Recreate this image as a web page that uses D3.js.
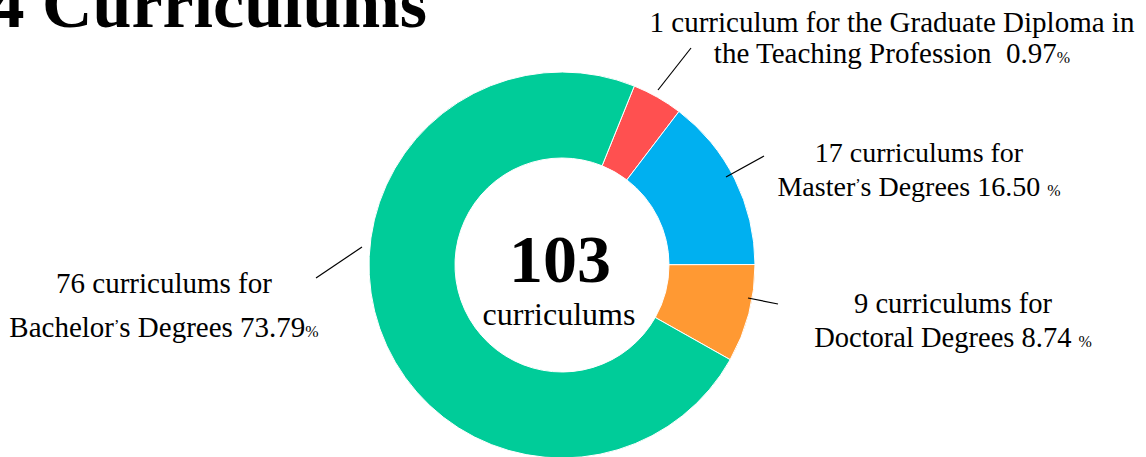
<!DOCTYPE html>
<html>
<head>
<meta charset="utf-8">
<script src="https://cdn.jsdelivr.net/npm/d3@7"></script>
<style>
  body { margin: 0; background: #fff; }
  svg { display: block; font-family: "Liberation Serif", "Times New Roman", serif; }
</style>
</head>
<body>
<script>
// slice shares as drawn in the picture (percent of the ring)
var categories = ["Graduate Diploma", "Master", "Doctoral", "Bachelor"];
var drawnShare = [4.25, 14.6, 8.2, 72.95];
var counts = [1, 17, 9, 76];
var percentLabels = ["0.97", "16.50 ", "8.74 ", "73.79"];
var labelLines = [
  ["1 curriculum for the Graduate Diploma in", "the Teaching Profession  "],
  ["17 curriculums for", "Master’s Degrees "],
  ["9 curriculums for", "Doctoral Degrees "],
  ["76 curriculums for", "Bachelor’s Degrees "]
];
var colors = ["#ff5050", "#00b0f0", "#ff9933", "#00cc99"];
var totalLabel = "103";

var width = 1146,
    height = 457;

var cx = 562, cy = 265,
    outerR = 193, innerR = 107;

// label layout: text centre x, first baseline y, line gap, font size, leader line ends
var labelLayout = [
  { x: 892, y: 32, gap: 31, size: 29, line: [[658, 90], [691, 48]] },
  { x: 919, y: 162, gap: 34, size: 28, line: [[726, 177], [764, 156]] },
  { x: 953, y: 313, gap: 34, size: 28.5, line: [[748, 298], [778, 304]] },
  { x: 164, y: 293, gap: 44, size: 29, line: [[316, 278], [362, 247]] }
];

var svg = d3.select("body")
  .append("svg")
  .attr("width", width)
  .attr("height", height);

var pie = d3.pie()
    .sort(null)
    .value(function(d) { return d; })
    .startAngle(22 * Math.PI / 180)
    .endAngle(382 * Math.PI / 180);

var arc = d3.arc()
    .innerRadius(innerR)
    .outerRadius(outerR);

var g = svg.append("g")
    .attr("transform", "translate(" + cx + "," + cy + ")");

g.selectAll("path")
    .data(pie(drawnShare))
  .enter().append("path")
    .attr("d", arc)
    .attr("fill", function(d, i) { return colors[i]; })
    .attr("stroke", "#fff")
    .attr("stroke-width", 1);

g.append("text")
    .attr("text-anchor", "middle")
    .attr("x", -2)
    .attr("y", 17)
    .attr("font-size", 68)
    .attr("font-weight", "bold")
    .text(totalLabel);

g.append("text")
    .attr("text-anchor", "middle")
    .attr("x", -3)
    .attr("y", 60)
    .attr("font-size", 32)
    .text("curriculums");

// title (cut off by the top edge)
svg.append("text")
    .attr("x", 427)
    .attr("y", 27)
    .attr("text-anchor", "end")
    .attr("font-size", 70)
    .attr("font-weight", "bold")
    .text("4 Curriculums");

// labels
var labels = svg.selectAll("g.label")
    .data(categories)
  .enter().append("g")
    .attr("class", "label");

labels.append("line")
    .attr("x1", function(d, i) { return labelLayout[i].line[0][0]; })
    .attr("y1", function(d, i) { return labelLayout[i].line[0][1]; })
    .attr("x2", function(d, i) { return labelLayout[i].line[1][0]; })
    .attr("y2", function(d, i) { return labelLayout[i].line[1][1]; })
    .attr("stroke", "#000")
    .attr("stroke-width", 1.2);

labels.each(function(d, i) {
  var L = labelLayout[i];
  d3.select(this).append("text")
      .attr("x", L.x)
      .attr("y", L.y)
      .attr("text-anchor", "middle")
      .attr("font-size", L.size)
      .text(labelLines[i][0]);
  var t2 = d3.select(this).append("text")
      .attr("x", L.x)
      .attr("y", L.y + L.gap)
      .attr("text-anchor", "middle")
      .attr("font-size", L.size)
      .style("white-space", "pre");
  var parts = labelLines[i][1].split("’");
  t2.append("tspan").text(parts[0]);
  if (parts.length > 1) {
    t2.append("tspan").attr("font-size", 16).attr("dy", -6).text("’");
    t2.append("tspan").attr("dy", 6).text(parts[1]);
  }
  t2.append("tspan").text(percentLabels[i]);
  t2.append("tspan").attr("font-size", 16).text("%");
});
</script>
</body>
</html>
